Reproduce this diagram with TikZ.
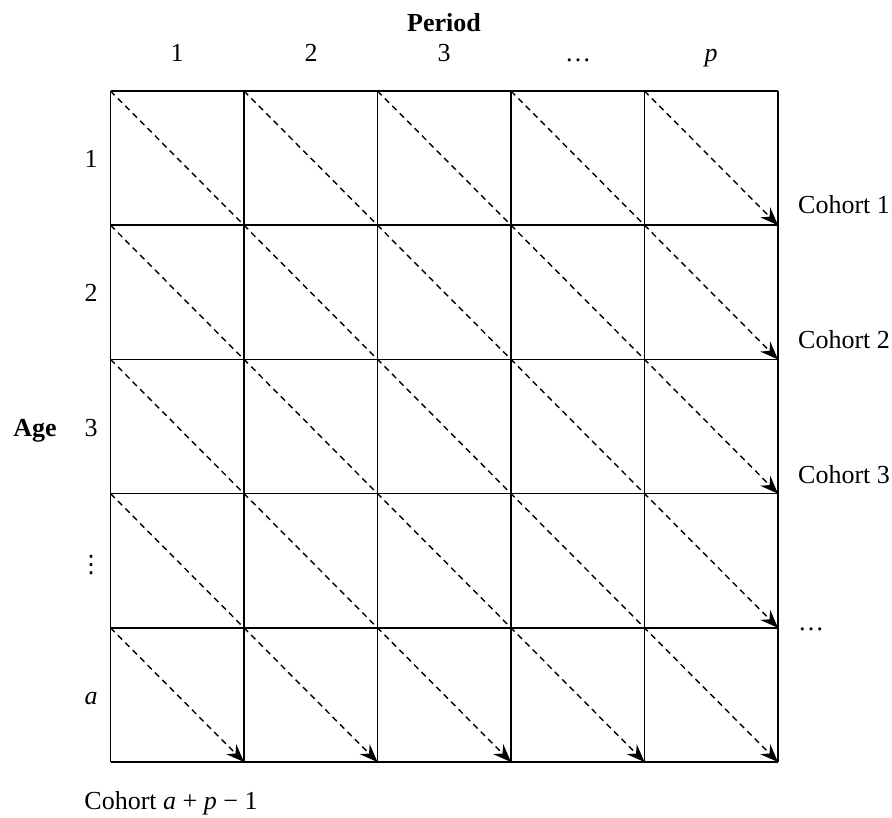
\documentclass[tikz,border=0pt]{standalone}
\usepackage{fontspec}
\setmainfont{Liberation Serif}
\newfontfamily\dejavufont{DejaVu Sans}
\usetikzlibrary{arrows.meta}
\begin{document}
\begin{tikzpicture}[x=1pt,y=-1pt,
  gridline/.style={line width=1.6pt},
  diag/.style={line width=1.4pt, dash pattern=on 6pt off 4.5pt,
    -{Stealth[length=18pt,width=14pt,inset=6pt]}},
  lab/.style={font=\fontsize{26}{30}\selectfont, inner sep=0pt, anchor=base},
  labw/.style={lab, anchor=base west},
  bold/.style={font=\fontsize{26}{30}\selectfont\bfseries}]
\useasboundingbox (0,0) rectangle (892,817);
\foreach \i in {0,...,5}{\foreach \j in {0,...,5}{
  \coordinate (g-\i-\j) at ({110.5+133.5*\j},{91+134.2*\i});}}
% grid
\foreach \k in {0,...,5}{
  \draw[gridline] (g-\k-0) -- (g-\k-5);
  \draw[gridline] (g-0-\k) -- (g-5-\k);}
% diagonals from top edge
\foreach \j [evaluate=\j as \e using int(5-\j)] in {0,...,4}{
  \draw[diag] (g-0-\j) -- (g-\e-5);}
% diagonals from left edge
\foreach \i [evaluate=\i as \e using int(5-\i)] in {1,...,4}{
  \draw[diag] (g-\i-0) -- (g-5-\e);}
% labels
\node[lab, bold] (period) at (444,31) {Period};
\node[lab] (c1) at (177,61) {1};
\node[lab] (c2) at (311,61) {2};
\node[lab] (c3) at (444,61) {3};
\node[lab] (c4) at (578,61) {\ldots};
\node[lab] (c5) at (711,61) {\textit{p}};
\node[lab] (r1) at (91,167) {1};
\node[lab] (r2) at (91,301) {2};
\node[lab] (r3) at (91,436) {3};
\node[lab, font=\fontsize{24}{28}\selectfont\dejavufont] (r4) at (91,572) {⋮};
\node[lab] (r5) at (91,704) {\textit{a}};
\node[lab, bold] (age) at (35,436) {Age};
\node[labw] (k1) at (798,213) {Cohort 1};
\node[labw] (k2) at (798,348) {Cohort 2};
\node[labw] (k3) at (798,483) {Cohort 3};
\node[labw] (k4) at (798,630) {\ldots};
\node[lab] (kb) at (171,809) {Cohort \textit{a} + \textit{p} − 1};
\end{tikzpicture}
\end{document}
